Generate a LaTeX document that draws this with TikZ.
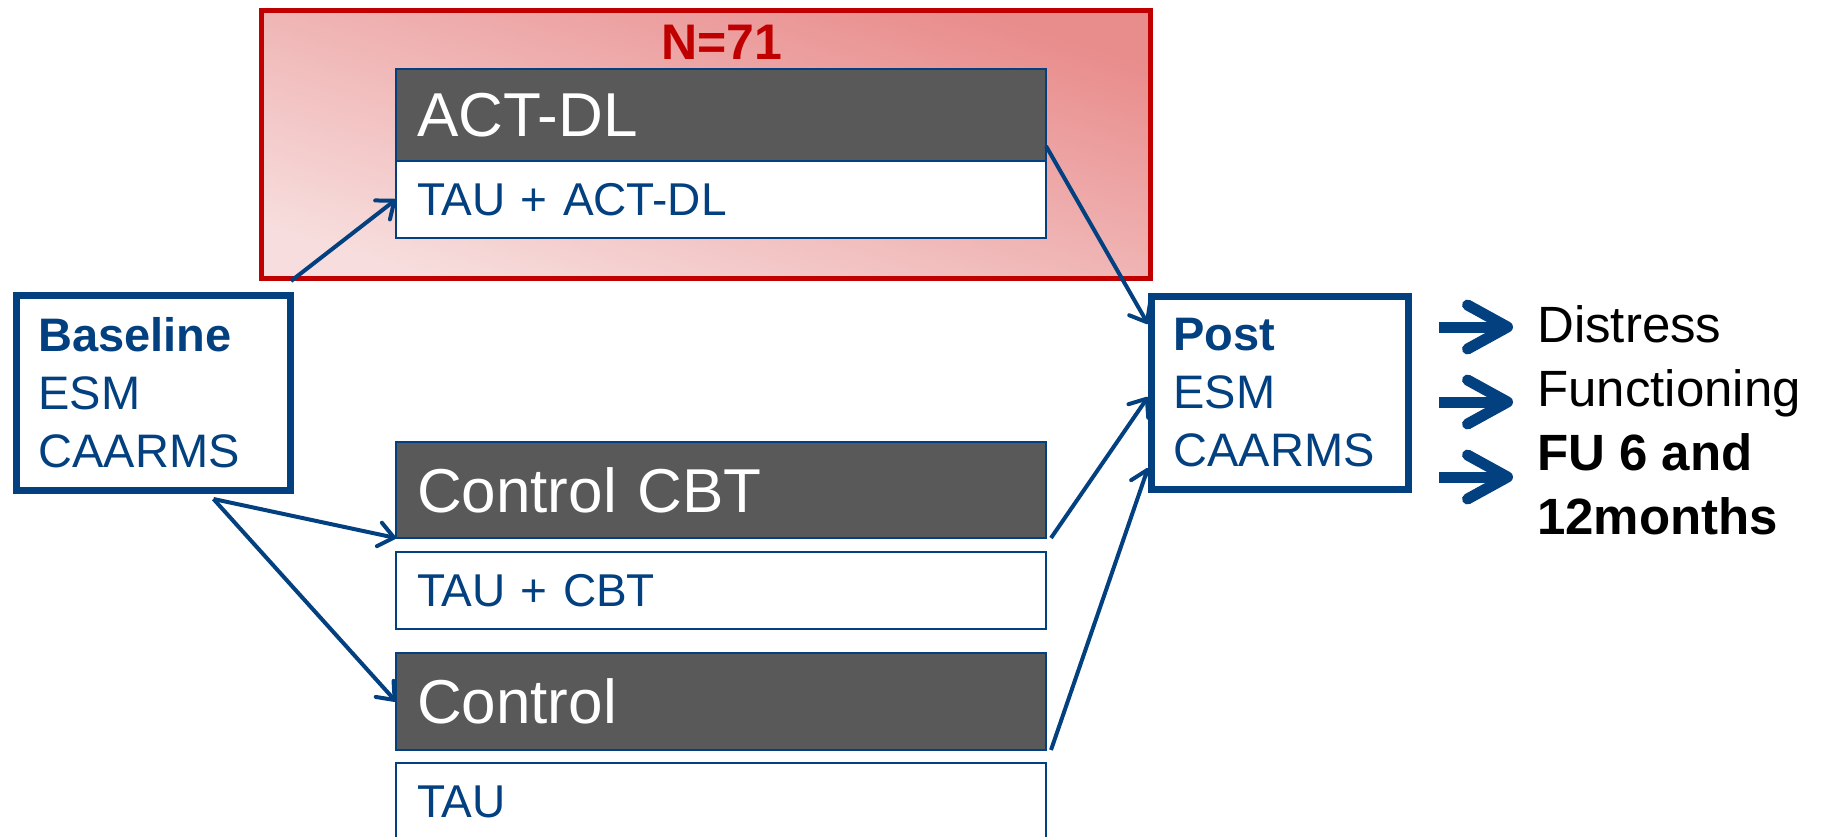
\documentclass[tikz,border=0pt]{standalone}
\usepackage{fontspec}
\setmainfont{Liberation Sans}
\usetikzlibrary{positioning,arrows.meta}
\definecolor{navy}{RGB}{2,64,128}
\definecolor{darkgrey}{RGB}{89,89,89}
\definecolor{trialred}{RGB}{192,0,0}
\definecolor{pinklight}{RGB}{247,221,221}
\definecolor{pinkdark}{RGB}{233,140,140}
\tikzset{
  armhead/.style={draw=navy, line width=1.5pt, fill=darkgrey, text=white, outer sep=0pt,
    inner xsep=21pt, inner ysep=0pt, text width=608pt, align=left, minimum height=96pt,
    font=\fontsize{62}{70}\selectfont},
  armbody/.style={draw=navy, line width=1.5pt, fill=white, text=navy, outer sep=0pt,
    inner xsep=21pt, inner ysep=0pt, text width=608pt, align=left, minimum height=77pt,
    font=\fontsize{46}{54}\selectfont},
  measbox/.style={draw=navy, line width=7pt, fill=white, text=navy, inner xsep=22pt,
    inner ysep=0pt, align=left, font=\fontsize{47}{58}\selectfont},
  link/.style={draw=navy, line width=4pt, -{Straight Barb[length=15pt,width=24pt,round]}},
  bigarrow/.style={draw=navy, line width=11pt, -{Straight Barb[length=40pt,width=44pt,round]}}
}
\begin{document}
\begin{tikzpicture}[x=1pt, y=-1pt]
  \useasboundingbox (0,0) rectangle (1821,836);
  \node [draw=trialred, line width=5pt, top color=pinkdark, bottom color=pinklight,
         shading angle=-17, minimum width=889pt, minimum height=268pt] (trial) at (705.5,144) {};
  \node [text=trialred, font=\bfseries\fontsize{50}{60}\selectfont, anchor=base] (n) at (722,59) {N=71};
  \node [armhead, anchor=north west, minimum height=92pt] (actdl) at (396,69) {ACT-DL};
  \node [armbody, below=0pt of actdl] (actarm) {TAU + ACT-DL};
  \node [armhead, anchor=north west] (cbt) at (396,442) {Control CBT};
  \node [armbody, below=14pt of cbt] (cbtarm) {TAU + CBT};
  \node [armhead, anchor=north west, minimum height=97pt] (ctrl) at (396,653) {Control};
  \node [armbody, below=13pt of ctrl] (ctrlarm) {TAU};
  \node [measbox, anchor=north west, text width=230pt, minimum height=195pt] (baseline) at (13,292)
        {\textbf{Baseline}\\ESM\\CAARMS};
  \node [measbox, anchor=north west, text width=213pt, minimum height=193pt] (post) at (1148,293)
        {\textbf{Post}\\ESM\\CAARMS};
  \node [anchor=north west, inner xsep=24pt, inner ysep=0pt, align=left,
         font=\fontsize{51}{64}\selectfont] (outcomes) at (1513,305.5)
        {Distress\\Functioning\\\textbf{FU 6 and}\\\textbf{12months}};
  \coordinate (fork) at ([xshift=60pt,yshift=-5pt]baseline.south);
  \coordinate (o1) at (1439,327);
  \coordinate (o2) at (1439,402);
  \coordinate (o3) at (1439,477);
  \draw [link] ([xshift=-3pt,yshift=11pt]baseline.north east) -- (actarm.west);
  \draw [link] (fork) -- (cbt.south west);
  \draw [link] (fork) -- (ctrl.west);
  \draw [link] ([yshift=15pt]actdl.south east) -- ([yshift=-31pt]post.north west);
  \draw [link] ([xshift=5pt]cbt.south east) -- ([yshift=-4pt]post.west);
  \draw [link] ([xshift=5pt]ctrl.south east) -- ([yshift=25pt]post.south west);
  \draw [bigarrow] (o1) -- (o1 -| outcomes.west);
  \draw [bigarrow] (o2) -- (o2 -| outcomes.west);
  \draw [bigarrow] (o3) -- (o3 -| outcomes.west);
\end{tikzpicture}
\end{document}
